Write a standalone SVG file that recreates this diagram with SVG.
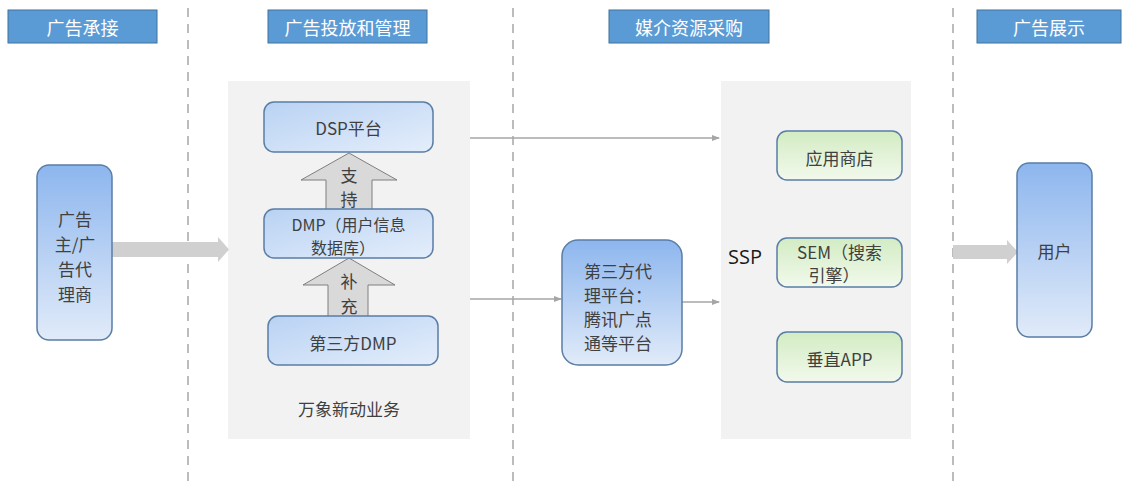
<svg xmlns="http://www.w3.org/2000/svg" width="1123" height="486" viewBox="0 0 1123 486">
<defs>
<linearGradient id="gBlue" x1="0" y1="0" x2="0" y2="1"><stop offset="0" stop-color="#8db6ee"/><stop offset="1" stop-color="#e1ebf9"/></linearGradient>
<linearGradient id="gBox" x1="0" y1="0" x2="1" y2="1"><stop offset="0" stop-color="#b9d2f3"/><stop offset="1" stop-color="#e4eefb"/></linearGradient>
<linearGradient id="gGreen" x1="0" y1="0" x2="0" y2="1"><stop offset="0" stop-color="#d2ecc3"/><stop offset="1" stop-color="#f2f9ec"/></linearGradient>
<marker id="ah" markerWidth="8" markerHeight="8" refX="7" refY="4" orient="auto" markerUnits="userSpaceOnUse"><path d="M0,1 L8,4 L0,7 Z" fill="#a6a6a6"/></marker>
</defs>
<style>
text{font-family:"Noto Sans CJK SC","Liberation Sans",sans-serif;fill:#404040;text-anchor:middle;dominant-baseline:central}
.hdr rect{fill:#5b9bd5;stroke:#41719c;stroke-width:1}
.hdr text{fill:#ffffff;font-size:18px}
.dash{stroke:#a6a6a6;stroke-width:1.5;stroke-dasharray:9,7}
.panel{fill:#f2f2f2}
.bn{fill:url(#gBlue);stroke:#5a7ea6;stroke-width:1.5}
.bx{fill:url(#gBox);stroke:#5a7ea6;stroke-width:1.5}
.gn{fill:url(#gGreen);stroke:#5a7ea6;stroke-width:1.5}
.t{font-size:17px}
.thin{stroke:#a6a6a6;stroke-width:1.5;fill:none;marker-end:url(#ah)}
.fat{fill:#d0d0d0}
.up{fill:#d9d9d9;stroke:#7f7f7f;stroke-width:1}
</style>
<line class="dash" x1="188" y1="8" x2="188" y2="486"/>
<line class="dash" x1="513" y1="8" x2="513" y2="486"/>
<line class="dash" x1="953" y1="8" x2="953" y2="486"/>
<g id="hdr1" class="hdr"><rect x="8" y="10" width="149" height="33"/><text x="82.5" y="27">广告承接</text></g>
<g id="hdr2" class="hdr"><rect x="268" y="10" width="159" height="33"/><text x="347.5" y="27">广告投放和管理</text></g>
<g id="hdr3" class="hdr"><rect x="609" y="10" width="160" height="33"/><text x="689" y="27">媒介资源采购</text></g>
<g id="hdr4" class="hdr"><rect x="977" y="10" width="144" height="33"/><text x="1049" y="27">广告展示</text></g>
<rect id="panel1" class="panel" x="228" y="81" width="242" height="358"/>
<rect id="panel2" class="panel" x="721" y="81" width="190" height="358"/>
<g id="connectors">
<path class="fat" d="M112,242 L218,242 L218,237 L229,249.5 L218,262 L218,257 L112,257 Z"/>
<path class="fat" d="M953,245 L1007,245 L1007,240 L1018,252 L1007,264 L1007,259 L953,259 Z"/>
<line class="thin" x1="470" y1="138" x2="719" y2="138"/>
<line class="thin" x1="470" y1="299" x2="561" y2="299"/>
<line class="thin" x1="682" y1="302" x2="719" y2="302"/>
<g id="arrowSupport"><path class="up" d="M326,209 L326,180 L301,180 L349,153 L397,180 L372,180 L372,209"/><text class="t" x="349" y="174">支<tspan x="349" dy="24">持</tspan></text></g>
<g id="arrowSupplement"><path class="up" d="M328,316 L328,285 L303,285 L349,258 L395,285 L368,285 L368,316"/><text class="t" x="349" y="280">补<tspan x="349" dy="25">充</tspan></text></g>
</g>
<g id="advertiser"><rect class="bn" x="37" y="165" width="75" height="175" rx="12"/><text class="t" x="75" y="218">广告<tspan x="75" dy="25">主/广</tspan><tspan x="75" dy="25">告代</tspan><tspan x="75" dy="25">理商</tspan></text></g>
<g id="dsp"><rect class="bx" x="264" y="102" width="169" height="50" rx="10"/><text class="t" x="348.5" y="127">DSP平台</text></g>
<g id="dmp"><rect class="bx" x="264" y="209" width="169" height="49" rx="10"/><text x="348.5" y="224" style="font-size:16px">DMP（用户信息<tspan x="343" dy="23">数据库）</tspan></text></g>
<g id="dmp3"><rect class="bx" x="268" y="316" width="170" height="49" rx="10"/><text class="t" x="353" y="342">第三方DMP</text></g>
<g id="wanxiang"><text class="t" x="349" y="408">万象新动业务</text></g>
<g id="thirdparty"><rect class="bn" x="562" y="240" width="120" height="125" rx="16"/><text class="t" x="618" y="270">第三方代<tspan x="618" dy="24">理平台：</tspan><tspan x="618" dy="24">腾讯广点</tspan><tspan x="618" dy="24">通等平台</tspan></text></g>
<g id="ssp"><text x="745" y="256" style="font-family:'Open Sans','Liberation Sans',sans-serif;font-size:20px;fill:#1a1a1a">SSP</text></g>
<g id="appstore"><rect class="gn" x="777" y="131" width="125" height="49" rx="10"/><text class="t" x="839.5" y="157">应用商店</text></g>
<g id="sem"><rect class="gn" x="777" y="238" width="125" height="49" rx="10"/><text class="t" x="839.5" y="251">SEM（搜索<tspan x="834" dy="23">引擎）</tspan></text></g>
<g id="vertical"><rect class="gn" x="777" y="332" width="125" height="50" rx="10"/><text class="t" x="839.5" y="358">垂直APP</text></g>
<g id="user"><rect class="bn" x="1017" y="163" width="75" height="174" rx="12"/><text class="t" x="1054.5" y="250">用户</text></g>
</svg>
